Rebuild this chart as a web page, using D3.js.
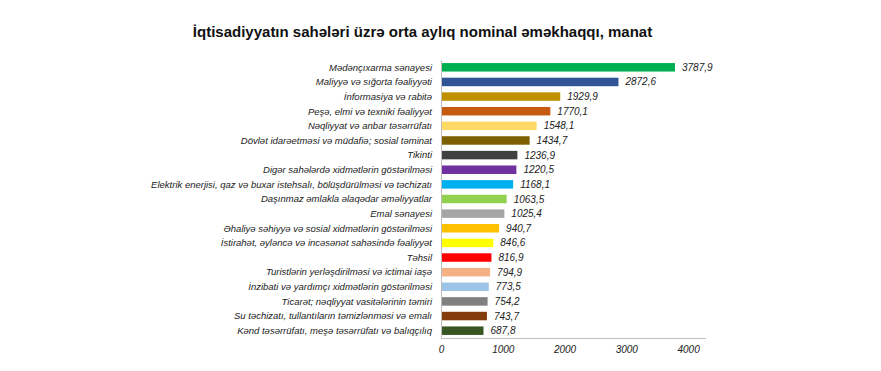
<!DOCTYPE html>
<html>
<head>
<meta charset="utf-8">
<script src="https://cdn.jsdelivr.net/npm/d3@7"></script>
<style>
  html, body { margin: 0; padding: 0; background: #fff; }
  svg { display: block; font-family: "Liberation Sans", Arial, sans-serif; }
</style>
</head>
<body>
<svg id="chart" width="881" height="371"></svg>
<script>
const title = "İqtisadiyyatın sahələri üzrə orta aylıq nominal əməkhaqqı, manat";
const categories = [
  "Mədənçıxarma sənayesi",
  "Maliyyə və sığorta fəaliyyəti",
  "İnformasiya və rabitə",
  "Peşə, elmi və texniki fəaliyyət",
  "Nəqliyyat və anbar təsərrüfatı",
  "Dövlət idarəetməsi və müdafiə; sosial təminat",
  "Tikinti",
  "Digər sahələrdə xidmətlərin göstərilməsi",
  "Elektrik enerjisi, qaz və buxar istehsalı, bölüşdürülməsi və təchizatı",
  "Daşınmaz əmlakla əlaqədar əməliyyatlar",
  "Emal sənayesi",
  "Əhaliyə səhiyyə və sosial xidmətlərin göstərilməsi",
  "İstirahət, əyləncə və incəsənət sahəsində fəaliyyət",
  "Təhsil",
  "Turistlərin yerləşdirilməsi və ictimai iaşə",
  "İnzibati və yardımçı xidmətlərin göstərilməsi",
  "Ticarət; nəqliyyat vasitələrinin təmiri",
  "Su təchizatı, tullantıların təmizlənməsi və emalı",
  "Kənd təsərrüfatı, meşə təsərrüfatı və balıqçılıq"
];
const values = [3787.9, 2872.6, 1929.9, 1770.1, 1548.1, 1434.7, 1236.9, 1220.5, 1168.1, 1063.5,
                1025.4, 940.7, 846.6, 816.9, 794.9, 773.5, 754.2, 743.7, 687.8];
const colors = ["#00B050", "#2F5597", "#BF9000", "#C55A11", "#FFD966", "#7F6000", "#404040",
                "#7030A0", "#00B0F0", "#92D050", "#A5A5A5", "#FFC000", "#FFFF00", "#FF0000",
                "#F4B183", "#9DC3E6", "#808080", "#843C0C", "#375623"];
const tickValues = [0, 1000, 2000, 3000, 4000];

const data = categories.map((c, i) => ({ cat: c, value: values[i], color: colors[i] }));

const svg = d3.select("#chart");
const mLeft = 441, mRight = 706, mTop = 60, mBottom = 338;

const x = d3.scaleLinear().domain([0, 4290]).range([mLeft, mRight]);
const y = d3.scaleBand().domain(categories).range([mTop, mBottom]).paddingInner(0.42).paddingOuter(0.21);

svg.append("text")
  .attr("x", 422.5).attr("y", 37)
  .attr("text-anchor", "middle")
  .attr("font-size", 15).attr("font-weight", "bold").attr("fill", "#111")
  .text(title);

// bars
svg.append("g").selectAll("rect").data(data).join("rect")
  .attr("x", x(0))
  .attr("y", d => y(d.cat))
  .attr("width", d => x(d.value) - x(0))
  .attr("height", y.bandwidth())
  .attr("fill", d => d.color);

// value labels
svg.append("g").selectAll("text").data(data).join("text")
  .attr("x", d => x(d.value) + 7)
  .attr("y", d => y(d.cat) + y.bandwidth() / 2)
  .attr("dy", "0.35em")
  .attr("font-size", 10).attr("font-style", "italic").attr("fill", "#222")
  .text(d => d3.format(".1f")(d.value).replace(".", ","));

// category labels
svg.append("g").selectAll("text").data(data).join("text")
  .attr("x", 432)
  .attr("y", d => y(d.cat) + y.bandwidth() / 2)
  .attr("dy", "0.35em")
  .attr("text-anchor", "end")
  .attr("font-size", 9.5).attr("font-style", "italic").attr("fill", "#222")
  .text(d => d.cat);

// axes
const xAxis = d3.axisBottom(x).tickValues(tickValues).tickSize(0).tickPadding(8).tickFormat(d3.format("d"));
const gx = svg.append("g").attr("transform", `translate(0,${mBottom})`).call(xAxis);
gx.select(".domain").attr("stroke", "#bfbfbf").attr("d", `M${mLeft},0.5H${mRight}`);
gx.selectAll("text").attr("font-size", 10).attr("font-style", "italic").attr("fill", "#222")
  .attr("font-family", "Liberation Sans, Arial, sans-serif");

const gy = svg.append("g").attr("transform", `translate(${mLeft},0)`)
  .call(d3.axisLeft(y).tickSize(0).tickFormat(""));
gy.select(".domain").attr("stroke", "#bfbfbf");
</script>
</body>
</html>
